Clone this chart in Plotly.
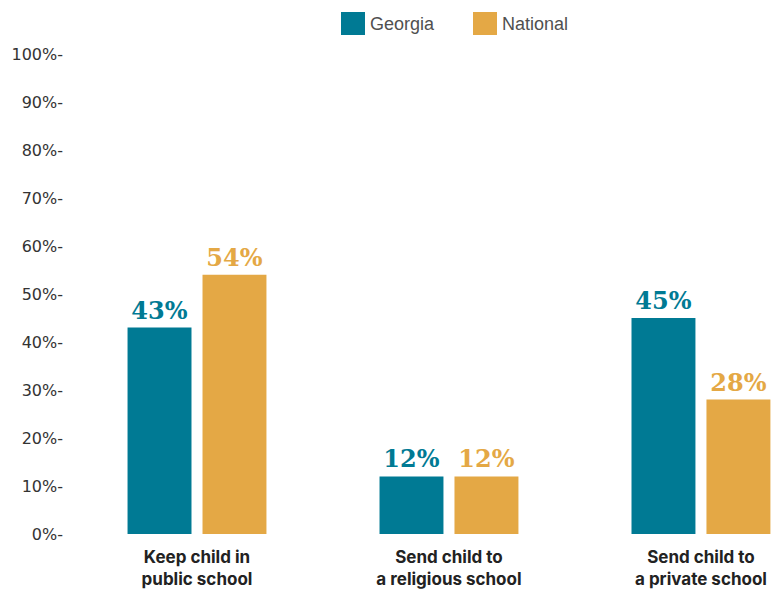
import plotly.graph_objects as go

# Survey responses: share choosing each option (%)
categories = ["Keep child in<br>public school",
              "Send child to<br>a religious school",
              "Send child to<br>a private school"]
georgia = [43, 12, 45]
national = [54, 12, 28]
y_ticks = [0, 10, 20, 30, 40, 50, 60, 70, 80, 90, 100]
y_tick_text = [f"{v}%-" for v in y_ticks]

TEAL = "#007A94"
GOLD = "#E4A845"
LABEL_FONT = dict(family="DejaVu Serif", size=24, weight="bold")

fig = go.Figure()
for name, values, color in [("Georgia", georgia, TEAL), ("National", national, GOLD)]:
    fig.add_trace(go.Bar(
        name=name, x=categories, y=values,
        marker=dict(color=color, line=dict(width=0)),
        text=[f"{v}%" for v in values], texttemplate="%{text}",
        textposition="outside",
        textfont=dict(color=color, **LABEL_FONT), cliponaxis=False,
        showlegend=False,
    ))

# Legend drawn as swatches + labels above the plot
legend_items = [("Georgia", TEAL, 0.3866), ("National", GOLD, 0.5749)]
for name, color, x0 in legend_items:
    fig.add_shape(type="rect", xref="paper", yref="paper",
                  x0=x0, x1=x0 + 0.0342, y0=1.0396, y1=1.0875,
                  fillcolor=color, line_width=0)
    fig.add_annotation(xref="paper", yref="paper", x=x0 + 0.0380, y=1.0625,
                       text=name, showarrow=False, xanchor="left", yanchor="middle",
                       font=dict(family="Liberation Sans", size=18, color="#505050"))

fig.update_layout(
    width=771, height=589,
    margin=dict(l=70, r=0, t=54, b=55),
    paper_bgcolor="white", plot_bgcolor="white",
    barmode="group", bargap=0.405, bargroupgap=0.147,
    showlegend=False,
    xaxis=dict(range=[-0.504, 2.278], showgrid=False, zeroline=False, showline=False,
               ticks="", ticklabelstandoff=11,
               tickfont=dict(family="Inter", size=17, color="#222222", weight="bold")),
    yaxis=dict(range=[0, 100], tickvals=y_ticks, ticktext=y_tick_text, showgrid=False,
               zeroline=False, showline=False, ticks="", ticklabelstandoff=6,
               tickfont=dict(family="DejaVu Sans", size=16, color="#333333")),
)

fig.write_html("out.html")
